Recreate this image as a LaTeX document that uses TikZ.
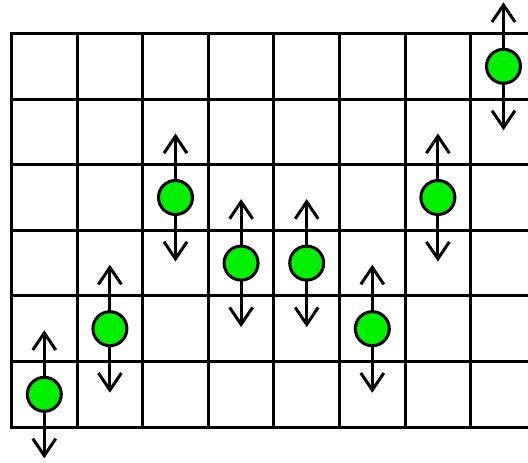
\documentclass[tikz,border=0pt]{standalone}
\usetikzlibrary{arrows.meta}
\definecolor{dotgreen}{RGB}{0,240,0}
\tikzset{
  gridline/.style={line width=3pt, line cap=rect},
  dot/.style={circle, draw=black, line width=3pt, fill=dotgreen, minimum size=34pt, inner sep=0pt},
  spin/.style={line width=3pt, -{Straight Barb[length=17pt,width=23pt]}}
}
\begin{document}
\begin{tikzpicture}[x=1pt,y=-1pt]
\useasboundingbox (0,0) rectangle (528,463);
\begin{scope}
\clip (0,0) rectangle (528,463);
\def\xo{11.5}\def\yo{33.5}\def\s{65.6}
\foreach \i in {0,...,6}{
  \draw[gridline] (\xo,\yo+\i*\s) -- (540,\yo+\i*\s);
}
\foreach \j in {0,...,7}{
  \draw[gridline] (\xo+\j*\s,\yo) -- (\xo+\j*\s,\yo+6*\s);
}
\foreach \n/\c/\r in {a/0/5,b/1/4,c/2/2,d/3/3,e/4/3,f/5/4,g/6/2,h/7/0}{
  \coordinate (\n) at (\xo+\c*\s+\s/2,\yo+\r*\s+\s/2);
  \coordinate (\n up) at (\xo+\c*\s+\s/2,\yo+\r*\s+\s/2-64);
  \coordinate (\n dn) at (\xo+\c*\s+\s/2,\yo+\r*\s+\s/2+64);
  \draw[spin] (\n) -- (\n up);
  \draw[spin] (\n) -- (\n dn);
  \node[dot] (\n dot) at (\n) {};
}
\end{scope}
\end{tikzpicture}
\end{document}
